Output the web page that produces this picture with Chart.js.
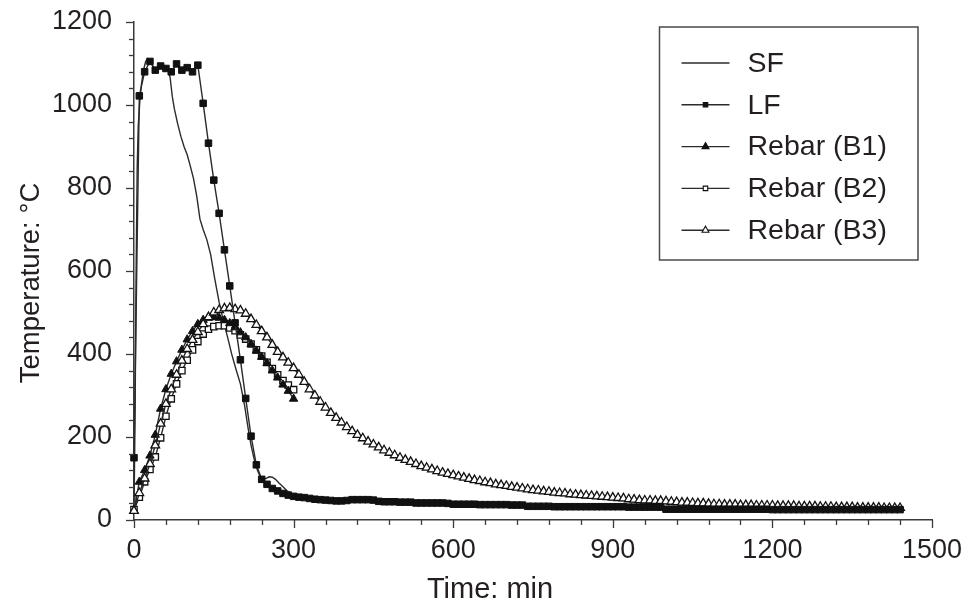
<!DOCTYPE html>
<html>
<head>
<meta charset="utf-8">
<script src="https://cdn.jsdelivr.net/npm/chart.js@4.4.1/dist/chart.umd.min.js"></script>
<style>
  html, body { margin: 0; padding: 0; background: #fff; }
  #wrap { width: 969px; height: 611px; }
</style>
</head>
<body>
<div id="wrap"><canvas id="c" width="969" height="611"></canvas></div>
<script>
// Furnace / rebar temperature histories during and after the fire test.

const SERIES_NAMES = ['SF', 'LF', 'Rebar (B1)', 'Rebar (B2)', 'Rebar (B3)'];
const X_TICKS = [0, 300, 600, 900, 1200, 1500];
const Y_TICKS = [0, 200, 400, 600, 800, 1000, 1200];
const X_TITLE = 'Time: min';
const Y_TITLE = 'Temperature: \u00B0C';

// Logger interval for LF and rebar channels (min)
const LOG_INTERVAL_MIN = 10;

// SF furnace thermocouple (irregular record)
const sfMinutes = [0, 2, 4, 6, 8, 11, 14, 18, 22, 26, 30, 35, 40, 46, 52, 58, 64, 68, 72, 76,
  82, 88, 94, 100, 106, 112, 118, 124, 130, 137, 144, 152, 160, 168, 176, 184, 192, 200, 208, 214,
  220, 226, 232, 237, 242, 248, 254, 260, 266, 272, 280, 288, 296, 310, 340, 400, 460, 520, 600, 700,
  800, 900, 1000, 1100, 1200, 1300, 1440];
const sfTemps = [20, 250, 600, 850, 950, 1010, 1050, 1085, 1105, 1112, 1110, 1095, 1082, 1085, 1092, 1095, 1090, 1065, 1020, 990,
  955, 925, 900, 880, 852, 822, 780, 725, 700, 675, 640, 580, 525, 480, 440, 398, 362, 328, 275, 225,
  180, 146, 120, 105, 100, 100, 104, 103, 98, 90, 80, 70, 63, 57, 52, 46, 44, 41, 37, 35,
  32, 30, 27, 26, 25, 25, 25];

// LF furnace thermocouple, 0–1440 min
const lfTemps = [
  150, 1022, 1080, 1105, 1084, 1094, 1088, 1080, 1099, 1084,   // 0–90
  1090, 1080, 1096, 1004, 908, 819, 739, 651, 564, 475,        // 100–190
  386, 293, 202, 133, 98, 86, 76, 70, 64, 60,                  // 200–290
  57, 55, 54, 52, 50, 49, 48, 47, 46, 46,                      // 300–390
  47, 49, 49, 49, 49, 48, 45, 44, 44, 44,                      // 400–490
  43, 43, 43, 41, 41, 41, 41, 41, 41, 40,                      // 500–590
  38, 38, 38, 38, 38, 37, 37, 37, 37, 37,                      // 600–690
  37, 36, 36, 36, 33, 33, 33, 33, 33, 32,                      // 700–790
  32, 32, 32, 32, 32, 32, 32, 32, 32, 32,                      // 800–890
  32, 32, 32, 31, 31, 31, 31, 31, 31, 31,                      // 900–990
  26, 26, 26, 26, 26, 26, 26, 26, 26, 26,                      // 1000–1090
  26, 26, 26, 26, 26, 26, 26, 26, 26, 26,                      // 1100–1190
  25, 25, 25, 25, 25, 25, 25, 25, 25, 25,                      // 1200–1290
  25, 25, 25, 25, 25, 25, 25, 25, 25, 25,                      // 1300–1390
  25, 25, 25, 25, 25                                           // 1400–1440
];

// Rebar B1, 0–300 min
const b1Temps = [
  22, 92, 120, 155, 205, 268, 315, 352, 382, 410,
  435, 455, 472, 482, 487, 489, 487, 482, 474, 464,
  452, 440, 424, 408, 393, 378, 360, 343, 326, 311,
  292
];

// Rebar B2, 0–300 min
const b2Temps = [
  25, 55, 92, 122, 152, 198, 250, 292, 328, 360,
  385, 410, 430, 448, 460, 466, 468, 468, 463, 456,
  446, 436, 424, 410, 395, 380, 365, 350, 336, 325,
  314
];

// Rebar B3, 0–1440 min
const b3Temps = [
  22, 65, 100, 135, 180, 232, 280, 315, 350, 384,      // 0–90
  412, 434, 453, 472, 489, 500, 506, 510, 511, 508,    // 100–190
  505, 497, 484, 470, 455, 440, 422, 405, 392, 379,    // 200–290
  366, 350, 333, 315, 300, 285, 271, 258, 246, 235,    // 300–390
  224, 214, 205, 197, 189, 182, 175, 168, 162, 156,    // 400–490
  150, 145, 140, 135, 130, 126, 122, 118, 114, 111,    // 500–590
  108, 105, 102, 99, 96, 94, 91, 89, 86, 84,           // 600–690
  82, 80, 78, 76, 74, 72, 71, 69, 68, 66,              // 700–790
  65, 64, 62, 61, 60, 59, 58, 57, 56, 55,              // 800–890
  54, 53, 52, 50, 49, 48, 47, 47, 46, 46,              // 900–990
  45, 44, 43, 42, 42, 41, 40, 40, 39, 38,              // 1000–1090
  38, 37, 37, 37, 36, 36, 36, 35, 35, 35,              // 1100–1190
  35, 34, 34, 34, 34, 33, 33, 33, 33, 32,              // 1200–1290
  32, 32, 31, 31, 31, 31, 30, 30, 30, 30,              // 1300–1390
  30, 29, 29, 29, 29                                   // 1400–1440
];

// ---------------------------------------------------------------------------
const FONT = '"Liberation Sans", Arial, Helvetica, sans-serif';
const INK = '#231f20';
const LINE = '#2b2b2b';
const X_MINOR = 60;
const Y_MINOR = 40;

const toPoints = (temps) => temps.map((t, i) => ({ x: i * LOG_INTERVAL_MIN, y: t }));
const sfPoints = sfMinutes.map((m, i) => ({ x: m, y: sfTemps[i] }));

const common = { borderColor: LINE, borderWidth: 1.4, tension: 0, clip: false, fill: false };

const datasets = [
  Object.assign({}, common, { label: SERIES_NAMES[0], data: sfPoints, pointRadius: 0, order: 5 }),
  Object.assign({}, common, { label: SERIES_NAMES[1], data: toPoints(lfTemps), pointStyle: 'rect',
    pointRadius: 4.6, pointBackgroundColor: '#111', pointBorderColor: '#111', pointBorderWidth: 1, order: 1 }),
  Object.assign({}, common, { label: SERIES_NAMES[2], data: toPoints(b1Temps), pointStyle: 'triangle',
    pointRadius: 4.8, pointBackgroundColor: '#111', pointBorderColor: '#111', pointBorderWidth: 1, order: 3 }),
  Object.assign({}, common, { label: SERIES_NAMES[3], data: toPoints(b2Temps), pointStyle: 'rect',
    pointRadius: 4.5, pointBackgroundColor: '#fff', pointBorderColor: '#111', pointBorderWidth: 1.3, order: 4 }),
  Object.assign({}, common, { label: SERIES_NAMES[4], data: toPoints(b3Temps), pointStyle: 'triangle',
    pointRadius: 5, pointBackgroundColor: '#fff', pointBorderColor: '#111', pointBorderWidth: 1.3, order: 2 })
];

// Axis tick marks: long at labelled values, short at minor steps
const tickMarks = {
  id: 'tickMarks',
  afterDraw(chart) {
    const { ctx, chartArea: a, scales: { x, y } } = chart;
    ctx.save();
    ctx.strokeStyle = '#3a3a3a';
    ctx.lineWidth = 1.3;
    const yMax = Y_TICKS[Y_TICKS.length - 1];
    for (let v = 0; v <= yMax; v += Y_MINOR) {
      const py = Math.round(y.getPixelForValue(v)) + 0.5;
      const len = Y_TICKS.includes(v) ? 8 : 5;
      ctx.beginPath(); ctx.moveTo(a.left - len, py); ctx.lineTo(a.left, py); ctx.stroke();
    }
    const xMax = X_TICKS[X_TICKS.length - 1];
    for (let v = 0; v <= xMax; v += X_MINOR) {
      const px = Math.round(x.getPixelForValue(v)) + 0.5;
      const len = X_TICKS.includes(v) ? 8 : 5;
      ctx.beginPath(); ctx.moveTo(px, a.bottom); ctx.lineTo(px, a.bottom + len); ctx.stroke();
    }
    ctx.restore();
  }
};

// Axis titles
const axisTitles = {
  id: 'axisTitles',
  afterDraw(chart) {
    const { ctx } = chart;
    ctx.save();
    ctx.fillStyle = INK;
    ctx.textAlign = 'center';
    ctx.textBaseline = 'middle';
    ctx.font = '29px ' + FONT;
    ctx.fillText(X_TITLE, 490, 590);
    ctx.translate(31, 283);
    ctx.rotate(-Math.PI / 2);
    ctx.font = '27.5px ' + FONT;
    ctx.fillText(Y_TITLE, 0, 0);
    ctx.restore();
  }
};

// Boxed legend in the upper right of the plot
const boxLegend = {
  id: 'boxLegend',
  afterDraw(chart) {
    const { ctx, chartArea: a } = chart;
    const right = a.right - 14, top = a.top + 5;
    const left = right - 258.5, bottom = top + 233;
    ctx.save();
    ctx.strokeStyle = '#4a4a4a';
    ctx.lineWidth = 1.5;
    ctx.strokeRect(left, top, right - left, bottom - top);
    ctx.font = '28.5px ' + FONT;
    ctx.textBaseline = 'middle';
    ctx.textAlign = 'left';
    chart.data.datasets.forEach((ds, i) => {
      const cy = top + 36 + i * 41.8;
      ctx.strokeStyle = LINE;
      ctx.lineWidth = 1.4;
      ctx.beginPath(); ctx.moveTo(left + 22, cy); ctx.lineTo(left + 70, cy); ctx.stroke();
      if (ds.pointRadius > 0) {
        ctx.fillStyle = ds.pointBackgroundColor;
        ctx.strokeStyle = ds.pointBorderColor;
        ctx.lineWidth = 1.1;
        Chart.helpers.drawPoint(ctx, {
          pointStyle: ds.pointStyle, radius: ds.pointStyle === 'rect' ? 3.2 : 4.0,
          rotation: 0, borderWidth: 1.1
        }, left + 46, cy);
      }
      ctx.fillStyle = INK;
      ctx.fillText(ds.label, left + 88, cy + 1);
    });
    ctx.restore();
  }
};

// Keep the plot rectangle fixed by the layout padding alone
const noScalePadding = (s) => {
  s.paddingLeft = 0; s.paddingRight = 0; s.paddingTop = 0; s.paddingBottom = 0;
};

new Chart(document.getElementById('c'), {
  type: 'line',
  data: { datasets },
  options: {
    responsive: false,
    devicePixelRatio: 1,
    animation: false,
    events: [],
    layout: { padding: { left: 0, top: 22, right: 37, bottom: 0 } },
    plugins: { legend: { display: false }, tooltip: { enabled: false } },
    scales: {
      x: {
        type: 'linear',
        min: X_TICKS[0], max: X_TICKS[X_TICKS.length - 1],
        afterBuildTicks: (s) => { s.ticks = X_TICKS.map(v => ({ value: v })); },
        afterFit: (s) => { s.height = 91; noScalePadding(s); },
        grid: { display: false, drawTicks: false },
        border: { display: true, color: '#3a3a3a', width: 1.5 },
        ticks: { font: { family: FONT, size: 27 }, color: INK, padding: 14, maxRotation: 0,
          callback: (v) => String(v) }
      },
      y: {
        type: 'linear',
        min: Y_TICKS[0], max: Y_TICKS[Y_TICKS.length - 1],
        afterBuildTicks: (s) => { s.ticks = Y_TICKS.map(v => ({ value: v })); },
        afterFit: (s) => { s.width = 134; noScalePadding(s); },
        grid: { display: false, drawTicks: false },
        border: { display: true, color: '#3a3a3a', width: 1.5 },
        ticks: { font: { family: FONT, size: 27 }, color: INK, padding: 22,
          callback: (v) => String(v) }
      }
    }
  },
  plugins: [tickMarks, axisTitles, boxLegend]
});
</script>
</body>
</html>
